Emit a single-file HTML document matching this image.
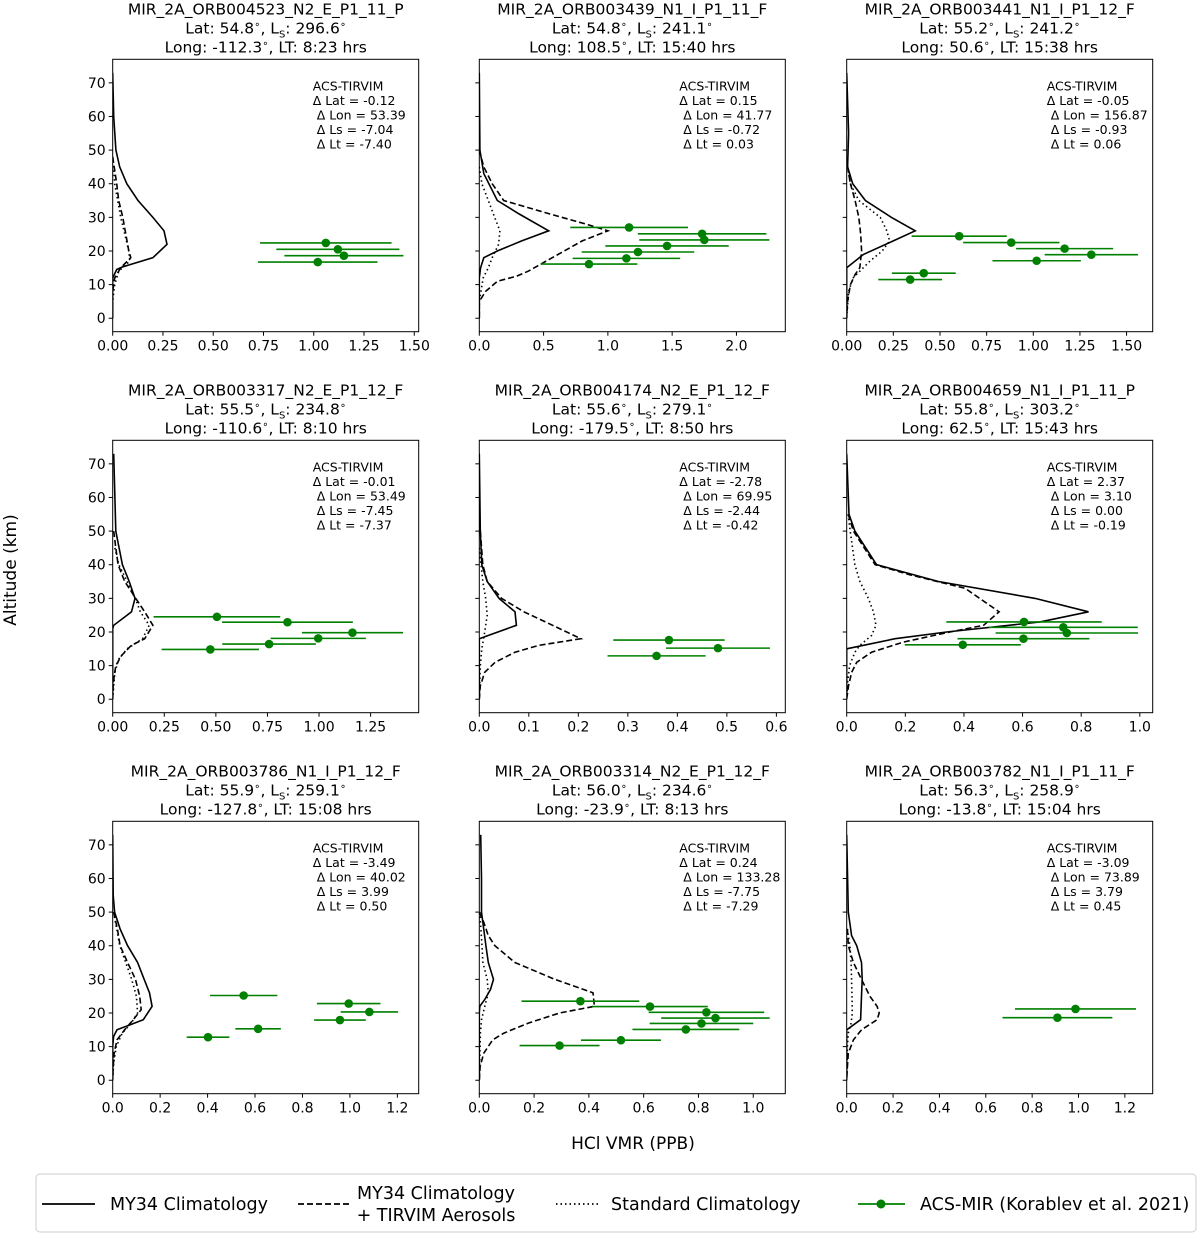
<!DOCTYPE html>
<html><head><meta charset="utf-8">
<style>
body{margin:0;background:#fff;}
svg text{font-family:"DejaVu Sans","Liberation Sans",sans-serif;fill:#000;}
</style></head>
<body>
<svg id="fig" width="1200" height="1234" viewBox="0 0 1200 1234" xmlns="http://www.w3.org/2000/svg">
<text x="16" y="570" font-size="17" text-anchor="middle" transform="rotate(-90 16 570)">Altitude (km)</text>
<text x="633" y="1149" font-size="17" text-anchor="middle">HCl VMR (PPB)</text>
<g>
<rect x="36" y="1174" width="1160" height="58" rx="4" fill="#fff" stroke="#ccc"/>
<line x1="42" y1="1204" x2="95" y2="1204" stroke="#000" stroke-width="1.8"/>
<text x="110" y="1210" font-size="17.5">MY34 Climatology</text>
<line x1="298" y1="1204" x2="350" y2="1204" stroke="#000" stroke-width="1.8" stroke-dasharray="6,3"/>
<text x="436" y="1199" font-size="17.5" text-anchor="middle">MY34 Climatology</text>
<text x="436" y="1221" font-size="17.5" text-anchor="middle">+ TIRVIM Aerosols</text>
<line x1="556" y1="1204" x2="598" y2="1204" stroke="#000" stroke-width="1.8" stroke-dasharray="1.5,3"/>
<text x="611" y="1210" font-size="17.5">Standard Climatology</text>
<line x1="858" y1="1204" x2="905" y2="1204" stroke="green" stroke-width="1.8"/>
<circle cx="881" cy="1204" r="4.5" fill="green"/>
<text x="920" y="1210" font-size="17.5">ACS-MIR (Korablev et al. 2021)</text>
</g>
</svg>
<script>
const titles1 = ["MIR_2A_ORB004523_N2_E_P1_11_P","MIR_2A_ORB003439_N1_I_P1_11_F","MIR_2A_ORB003441_N1_I_P1_12_F","MIR_2A_ORB003317_N2_E_P1_12_F","MIR_2A_ORB004174_N2_E_P1_12_F","MIR_2A_ORB004659_N1_I_P1_11_P","MIR_2A_ORB003786_N1_I_P1_12_F","MIR_2A_ORB003314_N2_E_P1_12_F","MIR_2A_ORB003782_N1_I_P1_11_F"];
const lats = ["54.8","54.8","55.2","55.5","55.6","55.8","55.9","56.0","56.3"];
const lsVals = ["296.6","241.1","241.2","234.8","279.1","303.2","259.1","234.6","258.9"];
const longs = ["-112.3","108.5","50.6","-110.6","-179.5","62.5","-127.8","-23.9","-13.8"];
const lts = ["8:23","15:40","15:38","8:10","8:50","15:43","15:08","8:13","15:04"];
const dLat = ["-0.12","0.15","-0.05","-0.01","-2.78","2.37","-3.49","0.24","-3.09"];
const dLon = ["53.39","41.77","156.87","53.49","69.95","3.10","40.02","133.28","73.89"];
const dLs = ["-7.04","-0.72","-0.93","-7.45","-2.44","0.00","3.99","-7.75","3.79"];
const dLt = ["-7.40","0.03","0.06","-7.37","-0.42","-0.19","0.50","-7.29","0.45"];
const xMaxes = [1.522,2.38,1.64,1.483,0.618,1.044,1.29,1.117,1.32];
const xTickSteps = [0.25,0.5,0.25,0.25,0.1,0.2,0.2,0.2,0.2];
const xTickMax = [1.5,2.0,1.5,1.25,0.6,1.0,1.2,1.0,1.2];
const xTickDec = [2,1,2,2,1,1,1,1,1];
const yTicks = [0,10,20,30,40,50,60,70];
const yDomain = [-4,77];

const solidProfiles = [
 [[73,0],[60,0.005],[50,0.016],[45,0.035],[40,0.07],[35,0.126],[30,0.2],[26,0.255],[22,0.27],[18,0.2],[15.3,0.05],[14.5,0.02],[12,0],[0,0]],
 [[73,0],[50,0.005],[43,0.035],[35,0.14],[31,0.31],[26,0.54],[23,0.33],[20,0.14],[18,0.035],[15,0.01],[12,0],[0,0]],
 [[73,0],[55,0.01],[45,0.005],[40,0.032],[35,0.1],[30,0.24],[26,0.367],[23,0.25],[19,0.09],[15,0],[0,0]],
 [[73,0.005],[50,0.015],[40,0.047],[35,0.08],[30,0.108],[26,0.091],[22,0.005],[21,0],[0,0]],
 [[73,0],[50,0.002],[40,0.005],[35,0.016],[30,0.04],[26,0.072],[22,0.075],[18,0],[0,0]],
 [[73,0],[55,0.008],[50,0.028],[40,0.102],[35,0.313],[30,0.643],[26,0.825],[23,0.66],[20,0.341],[18,0.165],[15,0],[0,0]],
 [[73,0],[55,0.002],[50,0.008],[45,0.031],[40,0.063],[35,0.105],[30,0.133],[26,0.155],[22,0.166],[18,0.129],[15,0.018],[13,0.004],[10,0],[0,0]],
 [[73,0.005],[60,0.008],[50,0.008],[40,0.024],[35,0.033],[30,0.052],[27,0.041],[24,0.02],[22,0.002],[20,0],[0,0]],
 [[73,0],[50,0.007],[43,0.021],[40,0.043],[35,0.064],[30,0.067],[25,0.064],[18,0.06],[15,0],[0,0]]
];
const dashedProfiles = [
 [[48,0],[40,0.02],[35,0.03],[30,0.05],[25,0.065],[20,0.08],[18,0.09],[15,0.04],[12,0.01],[8,0],[0,0]],
 [[50,0],[45,0.035],[40,0.1],[35,0.19],[31,0.55],[28,0.83],[26,1.0],[23,0.8],[20,0.66],[17,0.52],[14,0.38],[12.5,0.29],[11,0.14],[8,0.05],[5,0],[0,0]],
 [[48,0],[45,0.005],[40,0.02],[35,0.045],[30,0.065],[25,0.075],[20,0.08],[15,0.07],[13,0.045],[10,0.02],[5,0.005],[0,0]],
 [[50,0.005],[45,0.015],[40,0.026],[35,0.058],[30,0.112],[26,0.155],[22,0.195],[18,0.155],[16,0.09],[13,0.043],[10,0.015],[5,0.003],[0,0]],
 [[50,0.002],[40,0.007],[35,0.016],[30,0.045],[26,0.09],[22,0.148],[18,0.205],[16,0.12],[14,0.072],[11,0.032],[8,0.011],[4,0.002],[0,0]],
 [[55,0.005],[50,0.023],[40,0.097],[37,0.216],[33,0.404],[26,0.52],[22,0.467],[20,0.352],[17,0.193],[14,0.085],[11,0.034],[8,0.017],[4,0.006],[0,0]],
 [[50,0.004],[45,0.02],[40,0.031],[35,0.063],[30,0.096],[25,0.114],[21,0.12],[18,0.087],[15,0.05],[12,0.018],[8,0.006],[4,0.002],[0,0]],
 [[50,0],[47,0.016],[43,0.033],[40,0.057],[35,0.13],[30,0.276],[26,0.415],[22,0.42],[20,0.293],[17,0.179],[14,0.089],[12,0.049],[8,0.016],[4,0.003],[0,0]],
 [[45,0.003],[40,0.007],[35,0.029],[30,0.064],[25,0.1],[22,0.131],[20,0.14],[18,0.131],[15,0.064],[12,0.029],[8,0.007],[4,0.003],[0,0]]
];
const dottedProfiles = [
 [[48,0],[40,0.01],[30,0.04],[25,0.06],[20,0.08],[17,0.085],[14,0.03],[10,0.01],[5,0],[0,0]],
 [[45,0],[40,0.02],[35,0.07],[30,0.12],[26,0.16],[22,0.15],[18,0.1],[15,0.07],[12,0.03],[5,0],[0,0]],
 [[45,0.005],[40,0.02],[35,0.065],[30,0.18],[26,0.215],[23,0.23],[20,0.19],[17,0.125],[14,0.07],[12,0.035],[8,0.01],[0,0]],
 [[45,0.01],[40,0.03],[35,0.07],[30,0.11],[26,0.134],[22,0.177],[18,0.145],[15,0.07],[12,0.03],[8,0.01],[0,0]],
 [[45,0],[35,0.007],[30,0.013],[25,0.016],[20,0.011],[15,0.005],[10,0.002],[0,0]],
 [[55,0.005],[50,0.012],[40,0.028],[35,0.045],[30,0.074],[26,0.091],[22,0.1],[19,0.085],[16,0.045],[14,0.028],[10,0.01],[5,0.003],[0,0]],
 [[50,0.004],[40,0.03],[30,0.08],[25,0.1],[20,0.105],[17,0.078],[14,0.04],[10,0.015],[5,0.004],[0,0]],
 [[50,0.002],[40,0.01],[35,0.013],[30,0.029],[26,0.033],[22,0.02],[18,0.008],[14,0.004],[0,0]],
 [[45,0.002],[40,0.014],[35,0.019],[25,0.023],[20,0.024],[17,0.019],[14,0.007],[10,0.003],[0,0]]
];
const obsAlt = [
 [22.4,20.5,18.6,16.7],
 [27.0,25.1,23.3,21.5,19.7,17.8,16.1],
 [24.4,22.5,20.7,18.9,17.1,13.4,11.5],
 [24.5,22.9,19.8,18.1,16.4,14.8],
 [17.6,15.2,12.9],
 [23.0,21.4,19.7,18.0,16.2],
 [25.2,22.8,20.3,17.9,15.3,12.8],
 [23.5,21.9,20.2,18.5,16.9,15.1,11.9,10.3],
 [21.2,18.6]
];
const obsVal = [
 [1.06,1.12,1.15,1.02],
 [1.165,1.733,1.75,1.46,1.234,1.144,0.853],
 [0.603,0.882,1.168,1.311,1.018,0.413,0.34],
 [0.505,0.847,1.162,0.996,0.758,0.473],
 [0.383,0.482,0.358],
 [0.605,0.739,0.751,0.603,0.396],
 [0.552,0.995,1.082,0.958,0.613,0.402],
 [0.369,0.623,0.829,0.862,0.811,0.754,0.517,0.293],
 [0.987,0.909]
];
const obsErr = [
 [0.327,0.306,0.296,0.297],
 [0.458,0.5,0.506,0.48,0.438,0.418,0.376],
 [0.255,0.258,0.26,0.25,0.237,0.171,0.171],
 [0.307,0.317,0.245,0.231,0.227,0.236],
 [0.1125,0.105,0.099],
 [0.265,0.254,0.243,0.225,0.198],
 [0.142,0.134,0.121,0.109,0.096,0.09],
 [0.215,0.211,0.211,0.198,0.189,0.195,0.146,0.146],
 [0.261,0.237]
];

const NS = "http://www.w3.org/2000/svg";
const svg = document.getElementById('fig');
const lefts = [112.7,479.3,846.7], tops = [59.3,440.3,821.3], W = 306, H = 272.4;
function mk(tag, attrs, parent){const e=document.createElementNS(NS,tag);for(const k in attrs)e.setAttribute(k,attrs[k]);(parent||svg).appendChild(e);return e;}

for(let p=0;p<9;p++){
  const col=p%3,row=Math.floor(p/3);
  const L=lefts[col],T=tops[row];
  const xs=v=>L+v/xMaxes[p]*W;
  const ys=a=>T+(yDomain[1]-a)/(yDomain[1]-yDomain[0])*H;
  const g=mk('g',{});
  
  
  const cx=L+W/2;
  const t1=mk('text',{x:cx,y:T-45,'font-size':15.5,'text-anchor':'middle'},g);
  t1.textContent=titles1[p];
  
  
  const t2=mk('text',{x:cx,y:T-26,'font-size':15.5,'text-anchor':'middle'},g);
  t2.innerHTML='Lat: '+lats[p]+'<tspan dy="-6" font-size="10">∘</tspan><tspan dy="6">, L</tspan><tspan dy="4" font-size="10">S</tspan><tspan dy="-4">: '+lsVals[p]+'</tspan><tspan dy="-6" font-size="10">∘</tspan>';
  
  
  const t3=mk('text',{x:cx,y:T-7,'font-size':15.5,'text-anchor':'middle'},g);
  t3.innerHTML='Long: '+longs[p]+'<tspan dy="-6" font-size="10">∘</tspan><tspan dy="6">, LT: '+lts[p]+' hrs</tspan>';
  
  
  const cid='c'+p;
  const cp=mk('clipPath',{id:cid},g); mk('rect',{x:L,y:T,width:W,height:H},cp);
  const pg=mk('g',{'clip-path':'url(#'+cid+')'},g);
  const styles=[[solidProfiles,'none','solid'],[dashedProfiles,'6,3','dashed'],[dottedProfiles,'1.5,3','dotted']];
  styles.forEach(([arr,da,nm])=>{
    const d=arr[p].map((q,i)=>(i?'L':'M')+xs(q[1]).toFixed(1)+','+ys(q[0]).toFixed(1)).join(' ');
    const pe=mk('path',{d:d,fill:'none',stroke:'#000','stroke-width':1.6,'stroke-dasharray':da},pg);
    
    
  });
  for(let i=0;i<obsAlt[p].length;i++){
    const y=ys(obsAlt[p][i]);
    const eb=mk('line',{x1:xs(obsVal[p][i]-obsErr[p][i]),x2:xs(obsVal[p][i]+obsErr[p][i]),y1:y,y2:y,stroke:'green','stroke-width':1.6},pg);
    
    
    const c=mk('circle',{cx:xs(obsVal[p][i]),cy:y,r:4.3,fill:'green'},pg);
    
    
  }
  const fr=mk('rect',{x:L,y:T,width:W,height:H,fill:'none',stroke:'#000','stroke-width':1},g);
  
  
  yTicks.forEach(v=>{
    const y=ys(v);
    mk('line',{x1:L-4,x2:L,y1:y,y2:y,stroke:'#000','stroke-width':1},g);
    if(col===0){
      const tl=mk('text',{x:L-7,y:y+5,'font-size':14,'text-anchor':'end'},g);
      tl.textContent=v;
      
      
    }
  });
  const n=Math.round(xTickMax[p]/xTickSteps[p]);
  for(let k=0;k<=n;k++){
    const v=k*xTickSteps[p], x=xs(v);
    mk('line',{x1:x,x2:x,y1:T+H,y2:T+H+4,stroke:'#000','stroke-width':1},g);
    const tl=mk('text',{x:x,y:T+H+19,'font-size':14,'text-anchor':'middle'},g);
    tl.textContent=v.toFixed(xTickDec[p]);
    
    
  }
  const ax=L+200, ay=T+31;
  const lines=['ACS-TIRVIM','Δ Lat = '+dLat[p],' Δ Lon = '+dLon[p],' Δ Ls = '+dLs[p],' Δ Lt = '+dLt[p]];
  const an=mk('text',{x:ax,y:ay,'font-size':12.5,'xml:space':'preserve'},g);
  
  
  lines.forEach((s,i)=>{const ts=mk('tspan',{x:ax+(i>1?4:0),y:ay+i*14.6},an);ts.textContent=s.trim();});
}
</script>
</body></html>
